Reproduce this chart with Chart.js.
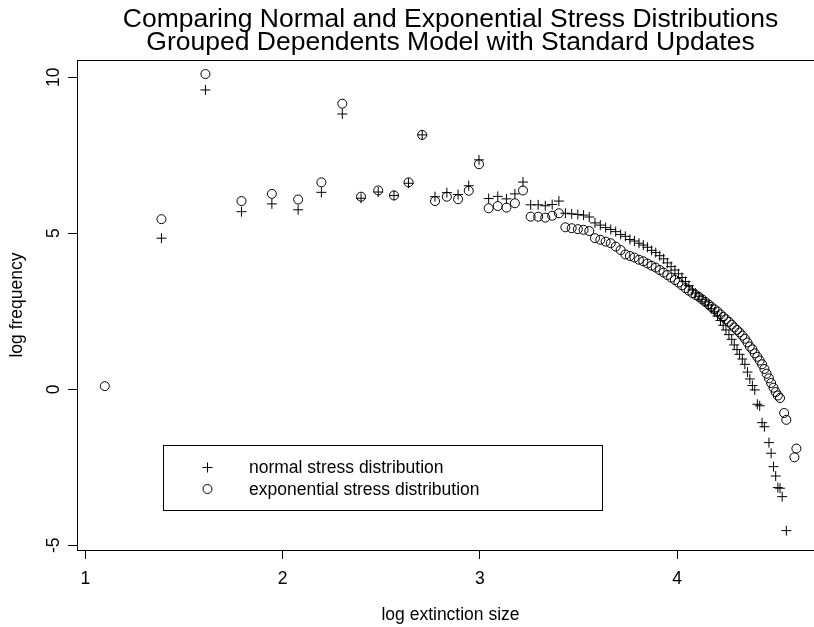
<!DOCTYPE html>
<html>
<head>
<meta charset="utf-8">
<script src="https://cdn.jsdelivr.net/npm/chart.js@4.4.0/dist/chart.umd.min.js"></script>
<style>
  html, body { margin: 0; padding: 0; background: #fff; overflow: hidden; }
  canvas { display: block; }
</style>
</head>
<body>
<canvas id="stressChart" width="840" height="627"></canvas>
<script>
// log extinction size (sizes 3 .. 100)
const logSize = [
  1.099, 1.386, 1.609, 1.792, 1.946, 2.079, 2.197, 2.303, 2.398, 2.485,
  2.565, 2.639, 2.708, 2.773, 2.833, 2.890, 2.944, 2.996, 3.045, 3.091,
  3.135, 3.178, 3.219, 3.258, 3.296, 3.332, 3.367, 3.401, 3.434, 3.466,
  3.497, 3.526, 3.555, 3.584, 3.611, 3.638, 3.664, 3.689, 3.714, 3.738,
  3.761, 3.784, 3.807, 3.829, 3.850, 3.871, 3.892, 3.912, 3.932, 3.951,
  3.970, 3.989, 4.007, 4.025, 4.043, 4.060, 4.078, 4.094, 4.111, 4.127,
  4.143, 4.159, 4.174, 4.190, 4.205, 4.220, 4.234, 4.248, 4.263, 4.277,
  4.290, 4.304, 4.317, 4.331, 4.344, 4.357, 4.369, 4.382, 4.394, 4.407,
  4.419, 4.431, 4.443, 4.454, 4.466, 4.477, 4.489, 4.500, 4.511, 4.522,
  4.533, 4.543, 4.554, 4.564, 4.575, 4.585, 4.595, 4.605
];

// log frequency, normal stress distribution (null = no point)
const normalFreq = [
  null, 4.84, 9.59, 5.69, 5.94, 5.75, 6.31, 8.82, 6.12, 6.32,
  6.21, 6.60, 8.15, 6.17, 6.30, 6.24, 6.52, 7.35, 6.11, 6.18,
  6.10, 6.26, 6.64, 5.91, 5.91, 5.88, 5.92, 6.03, 5.64, 5.62,
  5.60, 5.58, 5.52, 5.33, 5.26, 5.18, 5.12, 5.05, 4.96, 4.90,
  4.80, 4.75, 4.68, 4.62, 4.55, 4.45, 4.38, 4.28, 4.18, 4.05,
  3.93, 3.82, 3.70, 3.58, 3.45, 3.32, 3.18, 3.08, 2.98, 2.88,
  2.80, 2.70, 2.58, 2.48, 2.35, 2.20, 2.05, 1.90, 1.75, 1.60,
  1.42, 1.27, 1.12, 0.97, 0.80, 0.55, 0.33, 0.12, -0.02, -0.48,
  -0.53, -1.07, -1.20, null, -1.71, -2.05, -2.48, -2.78, -3.15, -3.17,
  -3.44, null, -4.53, null, null, null, null, null
];

// log frequency, exponential stress distribution
const expFreq = [
  0.10, 5.45, 10.10, 6.03, 6.26, 6.08, 6.63, 9.15, 6.17, 6.37,
  6.21, 6.63, 8.15, 6.03, 6.17, 6.09, 6.36, 7.21, 5.80, 5.87,
  5.82, 5.96, 6.37, 5.53, 5.53, 5.50, 5.56, 5.64, 5.19, 5.16,
  5.13, 5.11, 5.07, 4.84, 4.79, 4.73, 4.68, 4.57, 4.46, 4.32,
  4.27, 4.22, 4.15, 4.10, 4.03, 3.96, 3.90, 3.82, 3.74, 3.66,
  3.58, 3.50, 3.42, 3.33, 3.24, 3.16, 3.08, 3.02, 2.96, 2.88,
  2.80, 2.72, 2.64, 2.56, 2.49, 2.40, 2.32, 2.24, 2.16, 2.07,
  1.98, 1.90, 1.82, 1.72, 1.62, 1.50, 1.37, 1.28, 1.15, 1.04,
  0.92, 0.80, 0.65, 0.50, 0.35, 0.20, 0.05, -0.09, -0.20, -0.28,
  null, -0.76, -0.98, null, null, null, -2.18, -1.90
];

const xTicks = [1, 2, 3, 4];
const yTicks = [-5, 0, 5, 10];

const titleLines = [
  'Comparing Normal and Exponential Stress Distributions',
  'Grouped Dependents Model with Standard Updates'
];
const xTitle = 'log extinction size';
const yTitle = 'log frequency';
const legendLabels = ['normal stress distribution', 'exponential stress distribution'];

const FONT = '"Liberation Sans", Arial, Helvetica, sans-serif';

function toPoints(xs, ys) {
  const pts = [];
  xs.forEach((x, i) => {
    if (ys[i] !== null) pts.push({ x: x, y: ys[i] });
  });
  return pts;
}

function drawCross(ctx, x, y, r) {
  ctx.beginPath();
  ctx.moveTo(x - r, y); ctx.lineTo(x + r, y);
  ctx.moveTo(x, y - r); ctx.lineTo(x, y + r);
  ctx.stroke();
}

// box, titles, tick labels and legend drawn like base R graphics
const rStyle = {
  id: 'rStyle',
  afterDraw(chart) {
    const ctx = chart.ctx;
    const a = chart.chartArea;
    const xs = chart.scales.x;
    const ys = chart.scales.y;
    ctx.save();
    ctx.strokeStyle = '#000';
    ctx.fillStyle = '#000';
    ctx.lineWidth = 1;
    ctx.strokeRect(Math.round(a.left) + 0.5, Math.round(a.top) + 0.5,
                   Math.round(a.width), Math.round(a.height));

    const cx = (a.left + a.right) / 2;
    ctx.textAlign = 'center';
    ctx.textBaseline = 'alphabetic';
    ctx.font = '26.5px ' + FONT;
    titleLines.forEach((t, i) => ctx.fillText(t, cx, 27 + i * 23));

    ctx.font = '17.5px ' + FONT;
    ctx.textBaseline = 'middle';
    xTicks.forEach(v => ctx.fillText(String(v), xs.getPixelForValue(v), 579));
    ctx.fillText(xTitle, cx, 615);

    yTicks.forEach(v => {
      ctx.save();
      ctx.translate(54, ys.getPixelForValue(v));
      ctx.rotate(-Math.PI / 2);
      ctx.fillText(String(v), 0, 0);
      ctx.restore();
    });
    ctx.save();
    ctx.translate(17, (a.top + a.bottom) / 2);
    ctx.rotate(-Math.PI / 2);
    ctx.fillText(yTitle, 0, 0);
    ctx.restore();

    // legend
    ctx.strokeRect(163.5, 445.5, 439, 65);
    ctx.textAlign = 'left';
    drawCross(ctx, 207.5, 467.5, 5);
    ctx.fillText(legendLabels[0], 249, 468);
    ctx.beginPath();
    ctx.arc(207.5, 489, 4.5, 0, Math.PI * 2);
    ctx.stroke();
    ctx.fillText(legendLabels[1], 249, 490);
    ctx.restore();
  }
};

const ctx = document.getElementById('stressChart').getContext('2d');
new Chart(ctx, {
  type: 'scatter',
  data: {
    datasets: [
      {
        label: legendLabels[0],
        data: toPoints(logSize, normalFreq),
        pointStyle: 'cross',
        pointRadius: 5,
        borderColor: '#000',
        borderWidth: 1,
        backgroundColor: 'rgba(0,0,0,0)'
      },
      {
        label: legendLabels[1],
        data: toPoints(logSize, expFreq),
        pointStyle: 'circle',
        pointRadius: 4.5,
        borderColor: '#000',
        borderWidth: 1,
        backgroundColor: 'rgba(0,0,0,0)'
      }
    ]
  },
  options: {
    responsive: false,
    animation: false,
    events: [],
    layout: { padding: { top: 60, right: 16, left: 0, bottom: 0 } },
    plugins: {
      legend: { display: false },
      title: { display: false },
      tooltip: { enabled: false }
    },
    scales: {
      x: {
        type: 'linear',
        min: 0.958,
        max: 4.745,
        afterBuildTicks: s => { s.ticks = xTicks.map(v => ({ value: v })); },
        afterFit: s => { s.height = 77; },
        ticks: { display: false },
        border: { display: false },
        grid: { drawOnChartArea: false, drawTicks: true, tickLength: 9, color: '#000', lineWidth: 1 }
      },
      y: {
        type: 'linear',
        min: -5.15,
        max: 10.55,
        afterBuildTicks: s => { s.ticks = yTicks.map(v => ({ value: v })); },
        afterFit: s => { s.width = 77; },
        ticks: { display: false },
        border: { display: false },
        grid: { drawOnChartArea: false, drawTicks: true, tickLength: 9, color: '#000', lineWidth: 1 }
      }
    }
  },
  plugins: [rStyle]
});
</script>
</body>
</html>
